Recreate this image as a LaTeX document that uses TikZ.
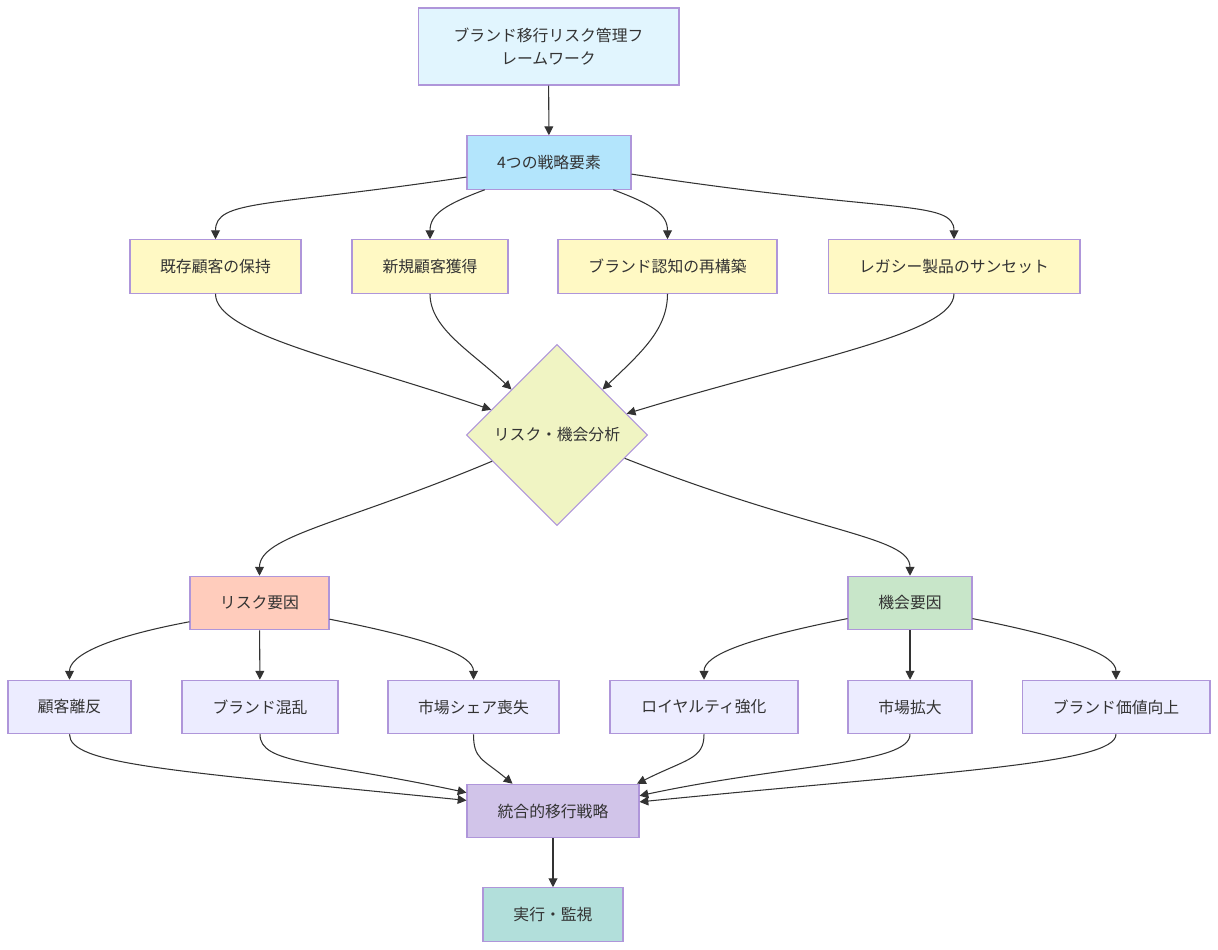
\documentclass[tikz,border=0pt]{standalone}
\usepackage{fontspec}
\newfontfamily\jpfont{Noto Sans CJK JP}
\usetikzlibrary{shapes.geometric,arrows.meta}
\tikzset{
  box/.style={draw=boxline, line width=0.6pt, font=\jpfont\fontsize{9}{13}\selectfont,
    text=textgray, minimum height=1.07cm, inner sep=0pt, align=center},
  link/.style={draw=linkgray, line width=0.6pt, -{Triangle[length=5pt,width=5pt]}}
}
\begin{document}
\begin{tikzpicture}[x=0.02cm, y=-0.02cm]
\definecolor{boxline}{RGB}{175,150,218}
\definecolor{linkgray}{RGB}{51,51,51}
\definecolor{textgray}{RGB}{51,51,51}
\definecolor{titlefill}{RGB}{225,245,254}
\definecolor{elemfill}{RGB}{179,229,252}
\definecolor{pillarfill}{RGB}{255,249,196}
\definecolor{analysisfill}{RGB}{240,244,195}
\definecolor{riskfill}{RGB}{255,204,188}
\definecolor{oppfill}{RGB}{200,230,201}
\definecolor{factorfill}{RGB}{236,236,255}
\definecolor{stratfill}{RGB}{209,196,233}
\definecolor{execfill}{RGB}{178,223,219}
\useasboundingbox (0,0) rectangle (1218,950);
\node[box, fill=titlefill, minimum width=5.22cm, minimum height=1.54cm] (title) at (548.5,46.5) {ブランド移行リスク管理フ\\レームワーク};
\node[box, fill=elemfill, minimum width=3.28cm] (elem) at (549,162.5) {4つの戦略要素};
\node[box, fill=pillarfill, minimum width=3.42cm] (keep) at (215.5,266.5) {既存顧客の保持};
\node[box, fill=pillarfill, minimum width=3.12cm] (gain) at (430,266.5) {新規顧客獲得};
\node[box, fill=pillarfill, minimum width=4.38cm] (rebuild) at (667.5,266.5) {ブランド認知の再構築};
\node[box, fill=pillarfill, minimum width=5.04cm] (sunset) at (954,266.5) {レガシー製品のサンセット};
\node[box, shape=diamond, aspect=1, fill=analysisfill, minimum size=3.62cm] (analysis) at (557,435) {リスク・機会分析};
\node[box, fill=riskfill, minimum width=2.78cm] (risk) at (259.5,603) {リスク要因};
\node[box, fill=oppfill, minimum width=2.48cm] (opp) at (910,603) {機会要因};
\node[box, fill=factorfill, minimum width=2.46cm] (churn) at (69.5,707) {顧客離反};
\node[box, fill=factorfill, minimum width=3.12cm] (confuse) at (260,707) {ブランド混乱};
\node[box, fill=factorfill, minimum width=3.42cm] (share) at (473.5,707) {市場シェア喪失};
\node[box, fill=factorfill, minimum width=3.76cm] (loyal) at (704,707) {ロイヤルティ強化};
\node[box, fill=factorfill, minimum width=2.48cm] (expand) at (910,707) {市場拡大};
\node[box, fill=factorfill, minimum width=3.76cm] (value) at (1116,707) {ブランド価値向上};
\node[box, fill=stratfill, minimum width=3.44cm] (strategy) at (553,811) {統合的移行戦略};
\node[box, fill=execfill, minimum width=2.80cm] (exec) at (553,914.5) {実行・監視};
\draw[link] (title) -- (elem);
\draw[link] (elem.190) .. controls +(-200,30) and +(0,-40) .. (keep.north);
\draw[link] (elem.203.5) .. controls +(-40,15) and +(0,-25) .. (gain.north);
\draw[link] (elem.-23.5) .. controls +(40,15) and +(0,-25) .. (rebuild.north);
\draw[link] (elem.-8) .. controls +(260,40) and +(0,-40) .. (sunset.north);
\draw[link] (keep.south) .. controls +(0,40) and +(-150,-51) .. (analysis.159.7);
\draw[link] (gain.south) .. controls +(0,35) and +(-40,-38) .. (analysis.135);
\draw[link] (rebuild.south) .. controls +(0,35) and +(40,-38) .. (analysis.45.6);
\draw[link] (sunset.south) .. controls +(0,40) and +(180,-55) .. (analysis.17.5);
\draw[link] (analysis.202) .. controls +(-150,63) and +(0,-40) .. (risk.north);
\draw[link] (analysis.-19.7) .. controls +(190,75) and +(0,-40) .. (opp.north);
\draw[link] (risk.195.3) .. controls +(-80,15) and +(0,-25) .. (churn.north);
\draw[link] (risk) -- (confuse);
\draw[link] (risk.-13.7) .. controls +(100,20) and +(0,-25) .. (share.north);
\draw[link] (opp.194.5) .. controls +(-100,20) and +(0,-25) .. (loyal.north);
\draw[link] (opp) -- (expand);
\draw[link] (opp.-14.5) .. controls +(100,20) and +(0,-25) .. (value.north);
\draw[link] (churn.south) .. controls +(0,30) and +(-300,-30) .. (strategy.173.4);
\draw[link] (confuse.south) .. controls +(0,30) and +(-150,-32) .. (strategy.168.2);
\draw[link] (share.south) .. controls +(0,25) and +(-30,-25) .. (strategy.146.6);
\draw[link] (loyal.south) .. controls +(0,25) and +(50,-25) .. (strategy.18.9);
\draw[link] (expand.south) .. controls +(0,30) and +(150,-32) .. (strategy.10.5);
\draw[link] (value.south) .. controls +(0,30) and +(300,-30) .. (strategy.6.6);
\draw[link] (strategy) -- (exec);
\end{tikzpicture}
\end{document}
